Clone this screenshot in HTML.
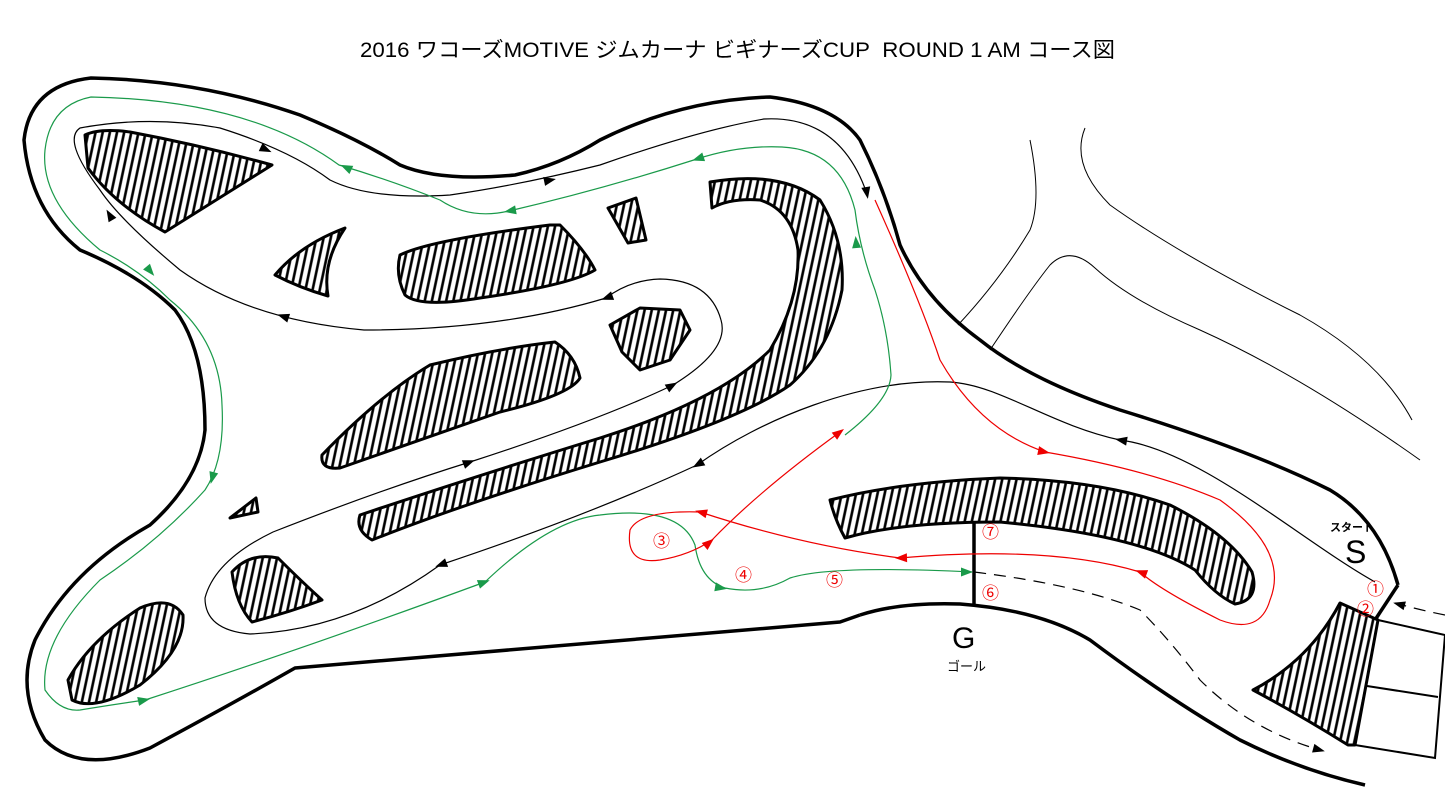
<!DOCTYPE html>
<html><head><meta charset="utf-8"><style>
body{margin:0;background:#fff;width:1445px;height:796px;overflow:hidden}
svg{display:block}
text{font-family:"Liberation Sans","Noto Sans CJK JP",sans-serif}
</style></head><body>
<svg width="1445" height="796" viewBox="0 0 1445 796">
<defs>
<pattern id="h" width="7" height="7" patternUnits="userSpaceOnUse" patternTransform="rotate(12)">
<rect width="7" height="7" fill="#fff"/><line x1="2" y1="0" x2="2" y2="7" stroke="#000" stroke-width="2.6"/>
</pattern>
<polygon id="a" points="5,0 -7,-4.5 -7,4.5"/>
</defs>
<text x="360" y="57" font-size="21" textLength="755" lengthAdjust="spacingAndGlyphs">2016 ワコーズMOTIVE ジムカーナ ビギナーズCUP&#160; ROUND 1 AM コース図</text>

<g fill="none" stroke="#000" stroke-width="1">
<path d="M1030 140 Q1042 200 1030 230 Q1000 280 958 325"/>
<path d="M1085 128 Q1070 165 1110 205 Q1180 255 1300 315 Q1380 360 1412 420"/>
<path d="M990 350 Q1030 290 1050 265 Q1070 245 1095 268 Q1130 300 1200 330 Q1300 375 1420 460"/>
</g>

<g fill="none" stroke="#000" stroke-width="3.5" stroke-linejoin="round">
<path d="M860 615 Q900 602 960 604 Q1040 610 1090 640 Q1170 700 1240 740 Q1300 770 1365 785"/>
<path d="M860 615 L840 622 L295 668 Q230 705 150 748 Q80 775 45 740 Q15 690 35 640 Q70 570 150 525 Q200 480 205 430 Q205 350 175 310 Q140 275 80 250 Q30 210 24 140 Q30 85 91 78 Q200 80 300 115 Q360 140 400 165 Q440 182 515 175 Q560 165 600 140 Q680 100 770 97 Q835 105 860 140 Q885 190 900 245 Q925 300 980 340 Q1030 380 1120 410 Q1250 450 1330 490 Q1380 520 1398 585"/>
</g>
<line x1="1398" y1="585" x2="1375" y2="620" stroke="#000" stroke-width="3.5"/>
<line x1="974" y1="518" x2="974" y2="604" stroke="#000" stroke-width="3.5"/>

<g fill="url(#h)" stroke="#000" stroke-width="3" stroke-linejoin="round">
<path d="M85 135 Q100 128 130 132 Q200 145 272 165 L165 232 Q115 205 88 168 Z"/>
<path d="M275 275 Q300 245 345 228 Q322 262 328 296 Q300 288 275 275 Z"/>
<path d="M400 255 Q430 240 550 225 L560 225 Q585 250 595 270 Q570 285 480 298 Q420 308 405 295 Q395 275 400 255 Z"/>
<path d="M608 208 L636 198 L646 240 L628 243 Z"/>
<path d="M610 325 L640 308 L680 310 L690 330 L670 360 L640 370 L622 352 Z"/>
<path d="M322 455 Q380 395 430 365 Q500 348 555 342 Q575 355 580 378 Q570 395 500 412 Q420 440 340 468 Q320 470 322 455 Z"/>
<path d="M710 182 Q780 170 820 200 Q845 240 842 290 Q830 350 790 385 Q740 420 600 462 Q460 505 372 540 Q355 530 360 515 Q470 478 600 438 Q720 400 770 350 Q800 300 798 250 Q792 210 760 200 Q730 198 712 208 Z"/>
<path d="M230 518 L256 498 L258 512 Z"/>
<path d="M232 572 Q250 552 278 558 Q300 580 322 600 Q290 612 252 622 Q236 605 232 572 Z"/>
<path d="M68 680 Q90 640 140 608 Q170 595 183 615 Q185 650 140 685 Q95 712 72 700 Z"/>
<path d="M830 500 Q900 482 1000 478 Q1100 480 1170 505 Q1230 535 1252 572 Q1260 600 1235 604 Q1215 595 1195 570 Q1140 535 1000 522 Q900 522 845 538 Q835 520 830 500 Z"/>
<path d="M1253 690 Q1310 660 1340 603 L1378 620 L1355 745 L1348 745 Q1300 715 1253 690 Z"/>
</g>
<g fill="none" stroke="#000" stroke-width="2">
<path d="M1378 620 L1445 635 L1435 758 L1355 745"/>
<line x1="1367" y1="686" x2="1438" y2="697"/>
</g>

<g fill="none" stroke-width="1.2">
<path stroke="#000" d="M1375 582 C1300 540 1200 450 1120 440 C1050 425 1000 385 950 382 C860 378 760 420 697 465 C600 510 500 545 440 565 Q350 630 250 634 Q205 630 205 598 Q215 560 273 532 Q380 490 470 462 Q600 420 673 385 Q730 350 721 320 Q710 280 660 279 Q630 280 606 298 Q500 330 364 330 Q250 320 180 270 Q120 220 100 190 Q62 140 80 128 Q150 115 220 128 Q290 150 330 180 Q370 200 450 195 Q520 185 600 165 Q700 130 764 119 Q840 115 867 194"/>
<path stroke="#1a9a4a" d="M845 435 Q890 400 891 375 Q888 330 875 290 Q860 250 855 210 Q840 150 782 147 Q740 145 697 159 Q600 190 509 211 Q470 220 440 200 Q390 180 339 165 Q250 100 91 97 Q50 105 45 150 Q40 200 100 250 Q140 270 170 300 Q220 340 222 405 Q225 460 205 490 Q160 540 100 580 Q40 640 45 690 Q60 712 80 710 Q110 705 145 700 Q300 650 485 582 Q550 520 600 515 Q680 505 695 545 Q700 580 725 588 Q760 595 790 578 Q830 565 972 572"/>
<path stroke="#e00" d="M875 200 Q920 300 940 360 Q980 430 1045 452 Q1150 470 1220 500 Q1290 550 1270 600 Q1260 635 1220 620 Q1160 590 1140 572 Q1050 545 900 558 Q800 545 700 512 Q640 510 630 530 Q625 565 660 560 Q690 555 712 540 Q760 490 840 432"/>
<path stroke="#000" stroke-dasharray="12 8" d="M974 572 Q1080 585 1140 610 Q1170 640 1200 680 Q1250 730 1320 750"/>
<path stroke="#000" stroke-dasharray="12 8" d="M1445 615 Q1420 610 1395 603"/>
</g>

<g fill="#000">
<use href="#a" transform="translate(1398,604) rotate(195)"/>
<use href="#a" transform="translate(1320,750) rotate(15)"/>
<use href="#a" transform="translate(1120,440) rotate(190)"/>
<use href="#a" transform="translate(697,465) rotate(150)"/>
<use href="#a" transform="translate(440,565) rotate(160)"/>
<use href="#a" transform="translate(470,462) rotate(-21)"/>
<use href="#a" transform="translate(673,385) rotate(-30)"/>
<use href="#a" transform="translate(606,298) rotate(160)"/>
<use href="#a" transform="translate(282,316) rotate(198)"/>
<use href="#a" transform="translate(109,214) rotate(-120)"/>
<use href="#a" transform="translate(267,150) rotate(25)"/>
<use href="#a" transform="translate(551,180) rotate(-12)"/>
<use href="#a" transform="translate(867,194) rotate(80)"/>
</g>
<g fill="#1a9a4a">
<use href="#a" transform="translate(856,241) rotate(-95)"/>
<use href="#a" transform="translate(697,159) rotate(162)"/>
<use href="#a" transform="translate(509,211) rotate(170)"/>
<use href="#a" transform="translate(345,167) rotate(205)"/>
<use href="#a" transform="translate(151,272) rotate(50)"/>
<use href="#a" transform="translate(212,479) rotate(105)"/>
<use href="#a" transform="translate(145,700) rotate(-12)"/>
<use href="#a" transform="translate(485,582) rotate(-20)"/>
<use href="#a" transform="translate(722,588) rotate(10)"/>
<use href="#a" transform="translate(968,572) rotate(0)"/>
</g>
<g fill="#e00">
<use href="#a" transform="translate(1045,452) rotate(12)"/>
<use href="#a" transform="translate(1140,572) rotate(200)"/>
<use href="#a" transform="translate(900,558) rotate(178)"/>
<use href="#a" transform="translate(700,512) rotate(195)"/>
<use href="#a" transform="translate(710,542) rotate(-40)"/>
<use href="#a" transform="translate(840,432) rotate(-37)"/>
</g>

<g font-size="17" fill="#e00">
<text x="982" y="538">⑦</text><text x="982" y="599">⑥</text>
<text x="653" y="547">③</text><text x="735" y="581">④</text><text x="826" y="586">⑤</text>
<text x="1367" y="595">①</text><text x="1357" y="615">②</text>
</g>
<text x="952" y="648" font-size="30">G</text>
<text x="947" y="671" font-size="13">ゴール</text>
<text x="1330" y="531" font-size="11" font-weight="bold">スタート</text>
<text x="1345" y="563" font-size="32">S</text>
</svg>
</body></html>
